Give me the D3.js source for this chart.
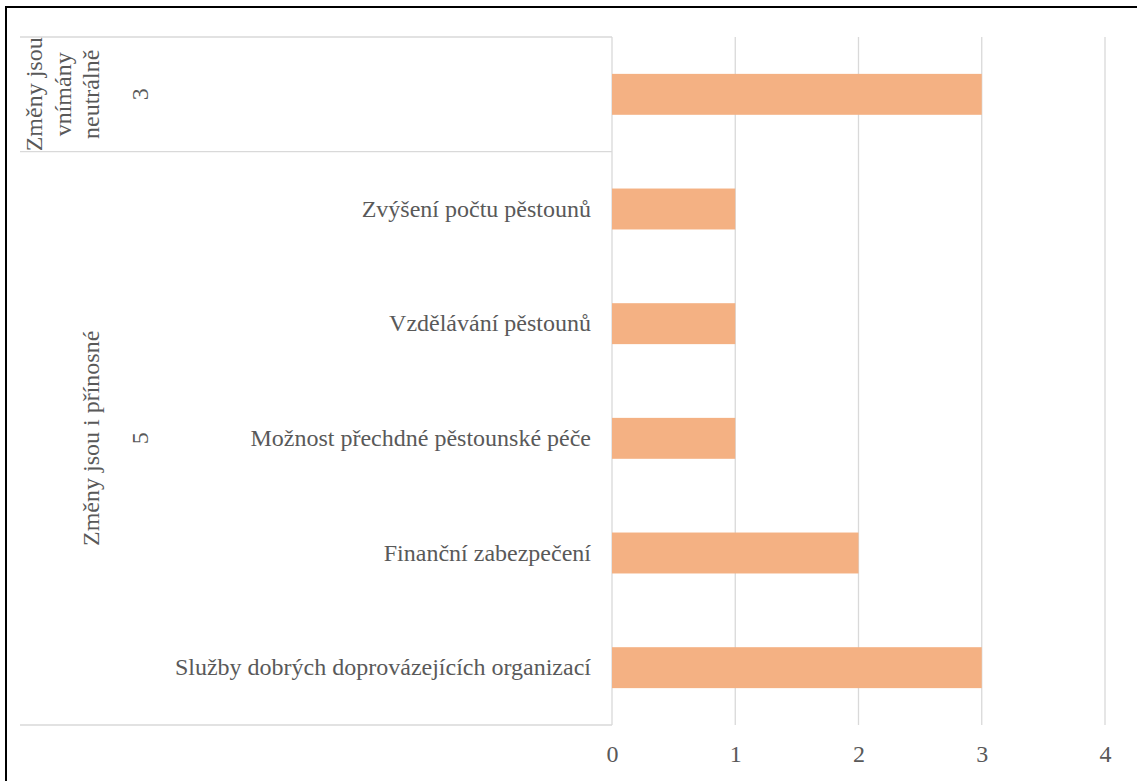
<!DOCTYPE html>
<html>
<head>
<meta charset="utf-8">
<script src="https://cdn.jsdelivr.net/npm/d3@7"></script>
<style>
  html, body { margin: 0; padding: 0; background: #fff; }
  svg { display: block; }
  text { font-family: "Liberation Serif", "Times New Roman", serif; fill: #595959; }
</style>
</head>
<body>
<svg id="chart" width="1137" height="781"></svg>
<script>
// ---- data ----
const groupNames = ["Změny jsou vnímány neutrálně", "Změny jsou i přínosné"];
const groupLabelLines = [["Změny jsou", "vnímány", "neutrálně"], ["Změny jsou i přínosné"]];
const groupCounts = ["3", "5"];
const categories = ["", "Zvýšení počtu pěstounů", "Vzdělávání pěstounů", "Možnost přechdné pěstounské péče", "Finanční zabezpečení", "Služby dobrých doprovázejících organizací"];
const categoryGroup = [0, 1, 1, 1, 1, 1];
const values = [3, 1, 1, 1, 2, 3];
const tickValues = [0, 1, 2, 3, 4];

// ---- layout ----
const W = 1137, H = 781;
const plotTop = 37, plotBottom = 725, plotLeft = 612, plotRight = 1105;
const axisLeft = 20;
const barColor = "#F4B183";
const gridColor = "#D9D9D9";

const svg = d3.select("#chart");

// outer border (extends past the right/bottom edges as in the reference)
svg.append("rect")
  .attr("x", 6).attr("y", 7)
  .attr("width", W + 20).attr("height", H + 20)
  .attr("fill", "#fff").attr("stroke", "#000").attr("stroke-width", 2);

const x = d3.scaleLinear().domain([0, 4]).range([plotLeft, plotRight]);
const pi = 0.643;
const y = d3.scaleBand().domain(d3.range(categories.length))
  .range([plotTop, plotBottom]).paddingInner(pi).paddingOuter(pi / 2);
const step = y.step();

// gridlines
svg.append("g").selectAll("line").data(tickValues).join("line")
  .attr("x1", d => x(d)).attr("x2", d => x(d))
  .attr("y1", plotTop).attr("y2", plotBottom)
  .attr("stroke", gridColor).attr("stroke-width", 1.3);

// group separator lines (multi-level category axis)
const boundaries = [0];
categoryGroup.forEach((g, i) => { if (i > 0 && g !== categoryGroup[i - 1]) boundaries.push(i); });
boundaries.push(categories.length);
svg.append("g").selectAll("line").data(boundaries).join("line")
  .attr("x1", axisLeft).attr("x2", plotLeft)
  .attr("y1", d => plotTop + d * step).attr("y2", d => plotTop + d * step)
  .attr("stroke", gridColor).attr("stroke-width", 1.3);

// bars
svg.append("g").selectAll("rect").data(values).join("rect")
  .attr("x", x(0))
  .attr("y", (d, i) => y(i))
  .attr("width", d => x(d) - x(0))
  .attr("height", y.bandwidth())
  .attr("fill", barColor);

// category labels
svg.append("g").selectAll("text").data(categories).join("text")
  .attr("x", plotLeft - 21)
  .attr("y", (d, i) => y(i) + y.bandwidth() / 2)
  .attr("dy", "0.32em")
  .attr("text-anchor", "end")
  .style("font-size", "24px")
  .text(d => d);

// group labels (rotated)
const groupSpans = groupNames.map((g, gi) => {
  const idx = categoryGroup.map((c, i) => c === gi ? i : -1).filter(i => i >= 0);
  return { top: plotTop + idx[0] * step, bottom: plotTop + (idx[idx.length - 1] + 1) * step };
});
const lineH = 28.5, lastLineX = 99, countX = 148;
groupLabelLines.forEach((lines, gi) => {
  const cy = (groupSpans[gi].top + groupSpans[gi].bottom) / 2;
  lines.forEach((ln, li) => {
    const bx = lastLineX - (lines.length - 1 - li) * lineH;
    svg.append("text")
      .attr("transform", `translate(${bx},${cy}) rotate(-90)`)
      .attr("text-anchor", "middle")
      .style("font-size", "24px")
      .text(ln);
  });
  svg.append("text")
    .attr("transform", `translate(${countX},${cy}) rotate(-90)`)
    .attr("text-anchor", "middle")
    .style("font-size", "24px")
    .text(groupCounts[gi]);
});

// value axis
const ax = svg.append("g")
  .attr("transform", `translate(0,${plotBottom})`)
  .call(d3.axisBottom(x).tickValues(tickValues).tickSize(0).tickPadding(20).tickFormat(d3.format("d")));
ax.select(".domain").remove();
ax.selectAll("text")
  .style("font-size", "24px")
  .style("font-family", "'Liberation Serif', 'Times New Roman', serif")
  .attr("fill", "#595959");
</script>
</body>
</html>
